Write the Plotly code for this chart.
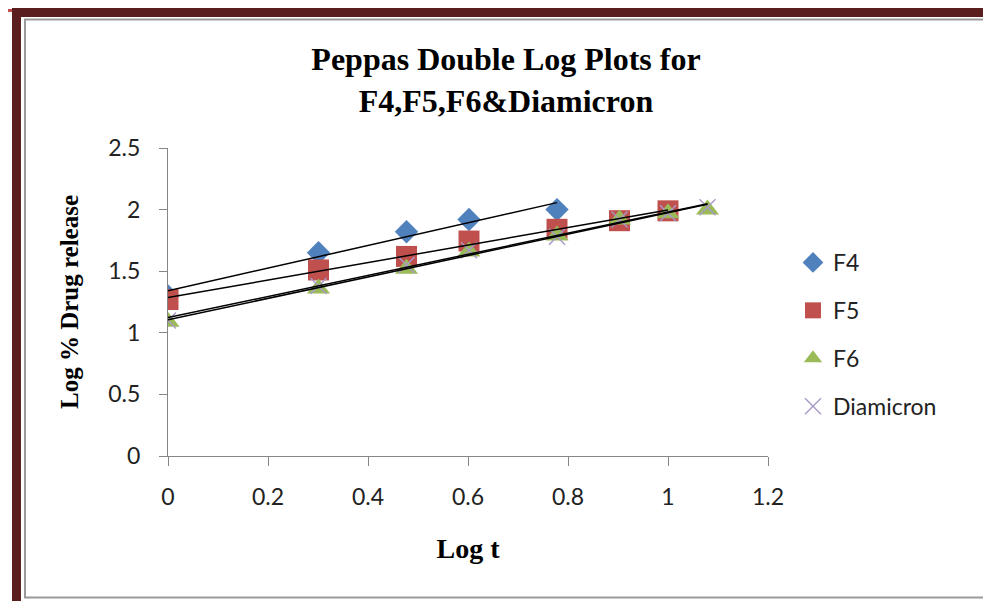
import numpy as np
import plotly.graph_objects as go

log_t = [0, 0.301, 0.477, 0.602, 0.778, 0.903, 1.0, 1.079]
f4 = [1.30, 1.65, 1.82, 1.92, 2.00]
f5 = [1.27, 1.51, 1.62, 1.745, 1.84, 1.91, 1.99]
f6 = [1.09, 1.36, 1.52, 1.66, 1.79, 1.92, 1.97, 2.00]
diamicron = [1.10, 1.38, 1.55, 1.67, 1.78, 1.92, 1.97, 2.02]

series = [
    ("F4", f4, dict(symbol="diamond", size=18, color="#4f81bd")),
    ("F5", f5, dict(symbol="square", size=21, color="#c0504d")),
    ("F6", f6, dict(symbol="triangle-up", size=20, color="#9bbb59")),
    ("Diamicron", diamicron, dict(symbol="x-thin", size=16, color="#a898c8",
                                  line=dict(width=1.4, color="#a898c8"))),
]

fig = go.Figure()
for i, (name, ys, mk) in enumerate(series):
    xs = log_t[:len(ys)]
    fig.add_trace(go.Scatter(x=xs, y=ys, mode="markers", name=name, marker=mk,
                             legendgroup=f"g{i}"))
for i, (name, ys, mk) in enumerate(series):
    xs = np.array(log_t[:len(ys)])
    m, c = np.polyfit(xs, ys, 1)
    xl = [xs[0], xs[-1]]
    fig.add_trace(go.Scatter(x=xl, y=[m * v + c for v in xl], mode="lines",
                             line=dict(color="black", width=1.5), showlegend=False,
                             hoverinfo="skip"))

OFF = 8  # default body margin of the page
W, H = 991 - OFF, 601 - OFF
# plot-area edges in page pixels
L, R, T, B = 168, 768, 148, 456

def px(x):
    return (x - L) / (R - L)

def py(y):
    return (B - y) / (B - T)

shapes = [
    dict(type="rect", xref="paper", yref="paper", x0=px(25), x1=px(986), y0=py(19.5), y1=py(597.5),
         line=dict(color="#9a9a9a", width=2), fillcolor="rgba(0,0,0,0)", layer="below"),
    dict(type="rect", xref="paper", yref="paper", x0=px(12), x1=px(995), y0=py(8), y1=py(17),
         line=dict(width=0), fillcolor="#5a1e1e"),
    dict(type="rect", xref="paper", yref="paper", x0=px(12), x1=px(21), y0=py(8), y1=py(610),
         line=dict(width=0), fillcolor="#5a1e1e"),
    dict(type="rect", xref="paper", yref="paper", x0=px(8), x1=px(12), y0=py(9), y1=py(12),
         line=dict(width=0), fillcolor="#c0504d"),
]

tickfont = dict(family="Lato", size=23, color="#222")

fig.update_layout(
    width=W, height=H,
    margin=dict(l=L - OFF, r=W - (R - OFF), t=T - OFF, b=H - (B - OFF), autoexpand=False),
    paper_bgcolor="white", plot_bgcolor="white",
    title=dict(text="<b>Peppas Double Log Plots for<br>F4,F5,F6&Diamicron</b>",
               x=(506 - OFF) / W, xanchor="center", y=1 - (70 - OFF) / H, yanchor="middle",
               font=dict(family="Liberation Serif", size=32, color="black")),
    xaxis=dict(range=[0, 1.2], tickvals=[0, 0.2, 0.4, 0.6, 0.8, 1, 1.2],
               ticktext=["0", "0.2", "0.4", "0.6", "0.8", "1", "1.2"],
               showgrid=False, zeroline=False, showline=True, linecolor="#868686",
               linewidth=1, ticks="outside", ticklen=9, tickcolor="#868686",
               ticklabelstandoff=11, tickfont=tickfont,
               title=dict(text="<b>Log t</b>", standoff=29,
                          font=dict(family="Liberation Serif", size=28, color="black"))),
    yaxis=dict(range=[0, 2.5], tickvals=[0, 0.5, 1, 1.5, 2, 2.5],
               ticktext=["0", "0.5", "1", "1.5", "2", "2.5"],
               showgrid=False, zeroline=False, showline=True, linecolor="#868686",
               linewidth=1, ticks="outside", ticklen=8, tickcolor="#868686",
               ticklabelstandoff=14, tickfont=tickfont,
               title=dict(text="<b>Log % Drug release</b>", standoff=22,
                          font=dict(family="Liberation Serif", size=25, color="black"))),
    legend=dict(x=px(793), y=py(241), xanchor="left", yanchor="top",
                font=dict(family="Lato", size=23, color="#222"),
                tracegroupgap=15, bgcolor="rgba(0,0,0,0)"),
    shapes=shapes,
    showlegend=True,
)

fig.write_html("out.html")
